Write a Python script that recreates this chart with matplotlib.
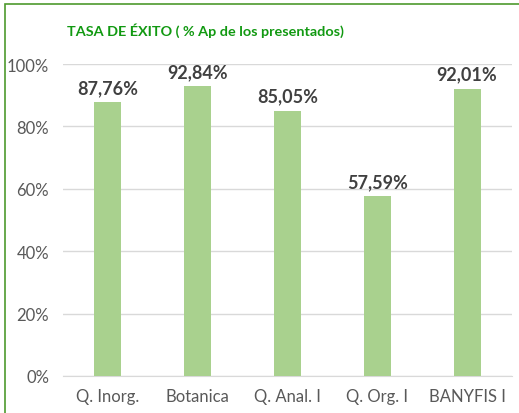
import matplotlib
matplotlib.use("Agg")
import matplotlib.pyplot as plt
from matplotlib.patches import Rectangle
from matplotlib.ticker import FuncFormatter, MultipleLocator

categories = ["Q. Inorg.", "Botanica", "Q. Anal. I", "Q. Org. I", "BANYFIS I"]
values = [87.76, 92.84, 85.05, 57.59, 92.01]
labels = ["87,76%", "92,84%", "85,05%", "57,59%", "92,01%"]
title = "TASA DE ÉXITO ( % Ap de los presentados)"

plt.rcParams['font.family'] = ['Lato', 'DejaVu Sans']

W, H = 519, 414
fig = plt.figure(figsize=(W/100, H/100), dpi=100)
ax = fig.add_axes([63/W, 37/H, (512-63)/W, (377-65)/H])

x = range(len(categories))
ax.bar(x, values, width=0.3, color="#A9D18E", zorder=3)
for xi, v, lab in zip(x, values, labels):
    ax.text(xi, v + 2.0, lab, ha="center", va="bottom", fontsize=13,
            fontweight="bold", color="#404040", zorder=4)

ax.set_xlim(-0.5, len(categories) - 0.5)
ax.set_ylim(0, 100)
ax.yaxis.set_major_locator(MultipleLocator(20))
ax.yaxis.set_major_formatter(FuncFormatter(lambda v, p: f"{int(v)}%"))
ax.set_xticks(list(x))
ax.set_xticklabels(categories)
ax.tick_params(axis="both", length=0, labelsize=12, colors="#595959")
ax.tick_params(axis="x", pad=9)
ax.tick_params(axis="y", pad=10)
ax.grid(axis="y", color="#D9D9D9", linewidth=1, zorder=0)
for s in ["top", "right", "left"]:
    ax.spines[s].set_visible(False)
ax.spines["bottom"].set_color("#D9D9D9")
ax.spines["bottom"].set_zorder(2)

fig.text(67/W, 1 - 31/H, title, ha="left", va="center", fontsize=10.4,
         fontweight="bold", color="#119911")

border = Rectangle((5/W, -0.2), 1.5, 1 - 5/H + 0.2, transform=fig.transFigure,
                   fill=False, edgecolor="#4E9A2E", linewidth=1.2)
fig.add_artist(border)

fig.savefig("out.png", dpi=100)
